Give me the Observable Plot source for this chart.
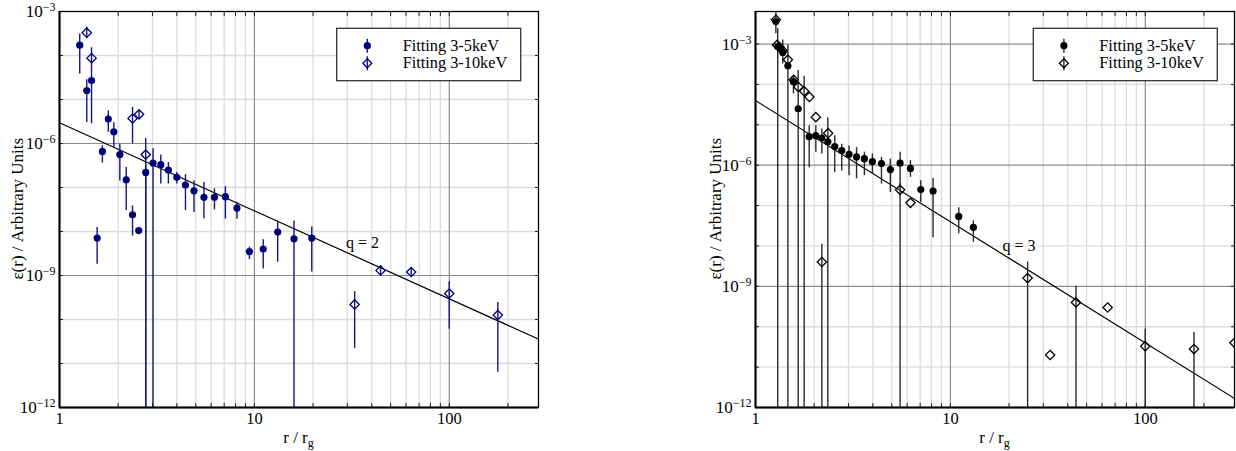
<!DOCTYPE html>
<html>
<head>
<meta charset="utf-8">
<script src="https://cdn.jsdelivr.net/npm/d3@7"></script>
<script src="https://cdn.jsdelivr.net/npm/@observablehq/plot@0.6"></script>
<style>
  html, body { margin: 0; padding: 0; background: #fff; }
  #wrap { display: flex; width: 1236px; height: 451px; }
  svg { display: block; }
</style>
</head>
<body>
<div id="wrap"></div>
<script>
// ---------- Left panel data (emissivity, fitting ranges) ----------
const L35_r   = [1.27, 1.38, 1.46, 1.56, 1.66, 1.78, 1.90, 2.04, 2.20, 2.37, 2.55, 2.77, 3.02, 3.31, 3.62, 4.00, 4.43, 4.90, 5.51, 6.24, 7.10, 8.14, 9.43, 11.1, 13.17, 15.97, 19.7];
const L35_eps = [1.72e-4, 1.6e-5, 2.7e-5, 7.1e-9, 6.6e-7, 3.6e-6, 1.85e-6, 5.6e-7, 1.5e-7, 2.4e-8, 1.05e-8, 2.2e-7, 3.6e-7, 3.3e-7, 2.5e-7, 1.7e-7, 1.14e-7, 8.4e-8, 6.0e-8, 6.0e-8, 6.2e-8, 3.4e-8, 3.5e-9, 4.0e-9, 9.7e-9, 6.8e-9, 7.1e-9];
const L35_lo  = [3.8e-5, 3.0e-6, 2.8e-6, 1.8e-9, 3.6e-7, 1.8e-6, 8.1e-7, 1.4e-7, 3.0e-8, 7.9e-9, 1.05e-8, 1e-14, 1e-14, 1.2e-7, 1.2e-7, 1.2e-7, 3.0e-8, 2.7e-8, 1.95e-8, 3.1e-8, 1.9e-8, 1.9e-8, 2.3e-9, 1.4e-9, 2.0e-9, 1e-14, 1.2e-9];
const L35_hi  = [3.1e-4, 2.8e-5, 5.0e-5, 1.23e-8, 8.9e-7, 5.5e-6, 2.95e-6, 9.8e-7, 2.85e-7, 3.8e-8, 1.05e-8, 3.3e-7, 7.6e-7, 5.5e-7, 3.7e-7, 2.2e-7, 1.95e-7, 1.4e-7, 1.3e-7, 9.3e-8, 1.05e-7, 4.6e-8, 4.4e-9, 6.5e-9, 1.74e-8, 1.74e-8, 1.26e-8];

const L310_r   = [1.38, 1.46, 2.37, 2.56, 2.77, 32.7, 44.4, 63.8, 100, 177.5];
const L310_eps = [3.3e-4, 8.7e-5, 3.7e-6, 4.6e-6, 5.6e-7, 2.2e-10, 1.3e-9, 1.2e-9, 3.9e-10, 1.26e-10];
const L310_lo  = [2.4e-4, 4.9e-5, 9.8e-7, 3.5e-6, 1e-14, 2.2e-11, 1.05e-9, 9.3e-10, 6.0e-11, 6.3e-12];
const L310_hi  = [4.4e-4, 1.5e-4, 6.6e-6, 5.5e-6, 1.3e-6, 4.3e-10, 1.66e-9, 1.5e-9, 7.2e-10, 2.45e-10];

// ---------- Right panel data ----------
const R35_r   = [1.272, 1.30, 1.34, 1.38, 1.466, 1.566, 1.656, 1.886, 2.04, 2.19, 2.35, 2.55, 2.77, 3.02, 3.30, 3.62, 3.98, 4.43, 4.92, 5.52, 6.24, 7.05, 8.15, 11.04, 13.12];
const R35_eps = [3.6e-3, 8.7e-4, 7.9e-4, 6.2e-4, 2.9e-4, 1.17e-4, 2.5e-5, 5.1e-6, 5.4e-6, 4.7e-6, 3.8e-6, 2.9e-6, 2.3e-6, 1.86e-6, 1.6e-6, 1.45e-6, 1.23e-6, 1.1e-6, 7.8e-7, 1.12e-6, 8.3e-7, 2.5e-7, 2.3e-7, 5.4e-8, 2.9e-8];
const R35_lo  = [1.8e-3, 1e-14, 7.9e-4, 3.2e-4, 1e-14, 5.8e-5, 1e-14, 8.7e-7, 2.1e-6, 1.9e-6, 1e-14, 6.6e-7, 7.2e-7, 5.5e-7, 4.6e-7, 5.5e-7, 6.0e-7, 3.4e-7, 2.1e-7, 2.6e-7, 5.0e-7, 1.2e-7, 1.6e-8, 2.0e-8, 1.23e-8];
const R35_hi  = [6.4e-3, 2.4e-3, 7.9e-4, 1.26e-3, 9.5e-4, 1.6e-4, 2.2e-4, 9.5e-6, 9.5e-6, 7.9e-6, 1.5e-5, 5.4e-6, 3.3e-6, 3.0e-6, 2.75e-6, 2.1e-6, 1.9e-6, 1.55e-6, 1.4e-6, 2.1e-6, 1.3e-6, 4.1e-7, 4.7e-7, 8.9e-8, 4.2e-8];

const R310_r   = [1.272, 1.29, 1.33, 1.38, 1.466, 1.57, 1.66, 1.777, 1.89, 2.04, 2.19, 2.36, 5.52, 6.24, 24.9, 32.5, 44.1, 64.1, 100, 177.8, 287];
const R310_eps = [4.0e-3, 9.5e-4, 8.3e-4, 6.8e-4, 4.1e-4, 1.3e-4, 8.7e-5, 6.8e-5, 4.9e-5, 1.55e-5, 4.0e-9, 6.2e-6, 2.45e-7, 1.17e-7, 1.6e-9, 2.0e-11, 4.0e-10, 3.0e-10, 3.3e-11, 2.8e-11, 4.0e-11];
const R310_lo  = [4.0e-3, 9.5e-4, 8.3e-4, 6.8e-4, 4.1e-4, 1.3e-4, 8.7e-5, 1e-14, 4.9e-5, 1.55e-5, 1e-14, 6.2e-6, 1e-14, 1.17e-7, 1e-14, 2.0e-11, 1e-14, 3.0e-10, 1e-14, 1e-14, 4.0e-11];
const R310_hi  = [4.0e-3, 9.5e-4, 8.3e-4, 6.8e-4, 4.1e-4, 1.3e-4, 8.7e-5, 1.6e-4, 4.9e-5, 1.55e-5, 1.1e-8, 6.2e-6, 3.5e-7, 1.17e-7, 4.0e-9, 2.0e-11, 1.0e-9, 3.0e-10, 8.7e-11, 7.2e-11, 4.0e-11];

// ---------- Power-law reference lines (endpoints) ----------
const fitL_r = [1, 287], fitL_eps = [2.95e-6, 3.58e-11], fitL_label = "q = 2", fitL_pos = [35.9, 5.6e-9];
const fitR_r = [1, 287], fitR_eps = [3.98e-5, 1.68e-12], fitR_label = "q = 3", fitR_pos = [22.5, 1.0e-8];

// ---------- Axes / grids ----------
const xTicks = [1, 10, 100];
const xGridMinor = [2, 3, 4, 5, 6, 7, 8, 9, 20, 30, 40, 50, 60, 70, 80, 90, 200];
const xGridMajor = [10, 100];
const yTicks = [1e-12, 1e-9, 1e-6, 1e-3];
const yGridMinor = [1e-11, 1e-10, 1e-8, 1e-7, 1e-5, 1e-4];
const legendLabels = ["Fitting 3-5keV", "Fitting 3-10keV"];
const xTitle = ["r / r", "g"];
const yTitle = "ε(r) / Arbitrary Units";

const FONT = "'Liberation Serif', 'Times New Roman', serif";

function rows(r, e, lo, hi) { return r.map((v, i) => ({r: v, e: e[i], lo: lo[i], hi: hi[i]})); }

function panel(o) {
  const d35 = rows(o.r35, o.e35, o.lo35, o.hi35);
  const d310 = rows(o.r310, o.e310, o.lo310, o.hi310);
  const fit = o.fitR.map((v, i) => ({r: v, e: o.fitE[i]}));
  const allX = [1, 2, 3, 4, 5, 6, 7, 8, 9, 10, 20, 30, 40, 50, 60, 70, 80, 90, 100, 200];
  const allY = yTicks.concat(yGridMinor).filter(v => v <= o.ymax);
  const svg = Plot.plot({
    width: o.width, height: 451,
    marginLeft: o.ml, marginRight: o.mr, marginTop: 11, marginBottom: 44,
    style: {fontFamily: FONT, fontSize: "17px", color: "#000", background: "#fff"},
    x: {type: "log", domain: [1, 287]},
    y: {type: "log", domain: [1e-12, o.ymax]},
    marks: [
      Plot.ruleX(xGridMinor, {stroke: "#dcdcdc", strokeWidth: 1.3}),
      Plot.ruleY(yGridMinor.filter(v => v <= o.ymax), {stroke: "#dcdcdc", strokeWidth: 1.3}),
      Plot.ruleX(xGridMajor, {stroke: "#8c8c8c", strokeWidth: 1.2}),
      Plot.ruleY(yTicks, {stroke: "#8c8c8c", strokeWidth: 1.2}),
      Plot.axisX({anchor: "bottom", ticks: xTicks, tickSize: 0, tickPadding: 5, tickFormat: d => "T" + d, label: null}),
      Plot.axisX({anchor: "top", ticks: allX, tickSize: -4, tickFormat: () => "", label: null, stroke: "#222"}),
      Plot.axisX({anchor: "bottom", ticks: allX, tickSize: -4, tickFormat: () => "", label: null, stroke: "#222"}),
      Plot.axisY({anchor: "left", ticks: yTicks, tickSize: 0, tickPadding: 4, tickFormat: d => "10|" + Math.round(Math.log10(d)), label: null}),
      Plot.axisY({anchor: "right", ticks: allY, tickSize: -4, tickFormat: () => "", label: null, stroke: "#222"}),
      Plot.axisY({anchor: "left", ticks: allY, tickSize: -4, tickFormat: () => "", label: null, stroke: "#222"}),
      Plot.line(fit, {x: "r", y: "e", stroke: "#000", strokeWidth: 1.2, clip: true}),
      Plot.text([o.labelPos], {x: d => d[0], y: d => d[1], text: () => o.label, fontSize: 16, fill: "#000"}),
      Plot.ruleX(d310, {x: "r", y1: "lo", y2: "hi", stroke: o.barColor, strokeWidth: 1.4, clip: true}),
      Plot.ruleX(d35, {x: "r", y1: "lo", y2: "hi", stroke: o.barColor, strokeWidth: 1.4, clip: true}),
      Plot.dot(d310, {x: "r", y: "e", symbol: "diamond2", r: 4.2, stroke: o.color, strokeWidth: 1.3, fill: "none", clip: true}),
      Plot.dot(d35, {x: "r", y: "e", symbol: "circle", r: 3.6, fill: o.color, stroke: "none", clip: true}),
      Plot.frame({stroke: "#000", strokeWidth: 1.3}),
      Plot.ruleX([1], {stroke: "#000", strokeWidth: 2}),
      Plot.ruleY([1e-12], {stroke: "#000", strokeWidth: 2})
    ]
  });

  const s = d3.select(svg);
  // tick labels: serif font, superscript exponents on y tick labels
  s.selectAll("text").each(function () {
    const t = this.textContent;
    const el = d3.select(this);
    if (/^T\d+$/.test(t)) {
      el.text(t.slice(1)).style("font-family", FONT).style("font-size", "16.5px");
    } else if (/^10\|/.test(t)) {
      const exp = t.split("|")[1].replace("-", "\u2212");
      el.text("").style("font-family", FONT).style("font-size", "17px");
      el.append("tspan").text("10");
      el.append("tspan").attr("dy", "-0.5em").style("font-size", "12px").text(exp);
    }
  });

  // axis titles
  const fx0 = o.ml, fx1 = o.width - o.mr;
  const xt = s.append("text").attr("x", (fx0 + fx1) / 2).attr("y", 443)
    .attr("text-anchor", "middle").style("font-family", FONT).style("font-size", "17px");
  xt.append("tspan").text(xTitle[0]);
  xt.append("tspan").attr("dy", 4).style("font-size", "12px").text(xTitle[1]);

  s.append("text").attr("transform", `translate(${o.ytx},208.7) rotate(-90)`)
    .attr("text-anchor", "middle").style("font-family", FONT).style("font-size", "17px").text(yTitle);

  // legend
  const lg = s.append("g");
  lg.append("rect").attr("x", o.legX).attr("y", 28.3).attr("width", 184).attr("height", 52.4)
    .attr("fill", "#fff").attr("stroke", "#333").attr("stroke-width", 1.3);
  const mx = o.legX + 30.6;
  [45.7, 63.3].forEach((yy, i) => {
    lg.append("line").attr("x1", mx).attr("x2", mx).attr("y1", yy - 7).attr("y2", yy + 7)
      .attr("stroke", o.barColor).attr("stroke-width", 1.4);
    if (i === 0) {
      lg.append("circle").attr("cx", mx).attr("cy", yy).attr("r", 3.6).attr("fill", o.color);
    } else {
      lg.append("path").attr("d", `M${mx},${yy - 4.5}L${mx + 4.5},${yy}L${mx},${yy + 4.5}L${mx - 4.5},${yy}Z`)
        .attr("fill", "none").attr("stroke", o.color).attr("stroke-width", 1.3);
    }
    lg.append("text").attr("x", o.legX + 66).attr("y", yy + 5).attr("text-anchor", "start")
      .style("font-family", FONT).style("font-size", "16.3px").text(legendLabels[i]);
  });
  return svg;
}

const wrap = document.getElementById("wrap");
wrap.appendChild(panel({
  width: 618, ml: 59, mr: 80, ymax: 1e-3,
  r35: L35_r, e35: L35_eps, lo35: L35_lo, hi35: L35_hi,
  r310: L310_r, e310: L310_eps, lo310: L310_lo, hi310: L310_hi,
  fitR: fitL_r, fitE: fitL_eps, label: fitL_label, labelPos: fitL_pos,
  color: "#00007a", barColor: "#14148c", legX: 336.7, ytx: 22.5
}));
wrap.appendChild(panel({
  width: 618, ml: 137, mr: 2, ymax: 6.4e-3,
  r35: R35_r, e35: R35_eps, lo35: R35_lo, hi35: R35_hi,
  r310: R310_r, e310: R310_eps, lo310: R310_lo, hi310: R310_hi,
  fitR: fitR_r, fitE: fitR_eps, label: fitR_label, labelPos: fitR_pos,
  color: "#000", barColor: "#2a2a2a", legX: 415.3, ytx: 103
}));
</script>
</body>
</html>
